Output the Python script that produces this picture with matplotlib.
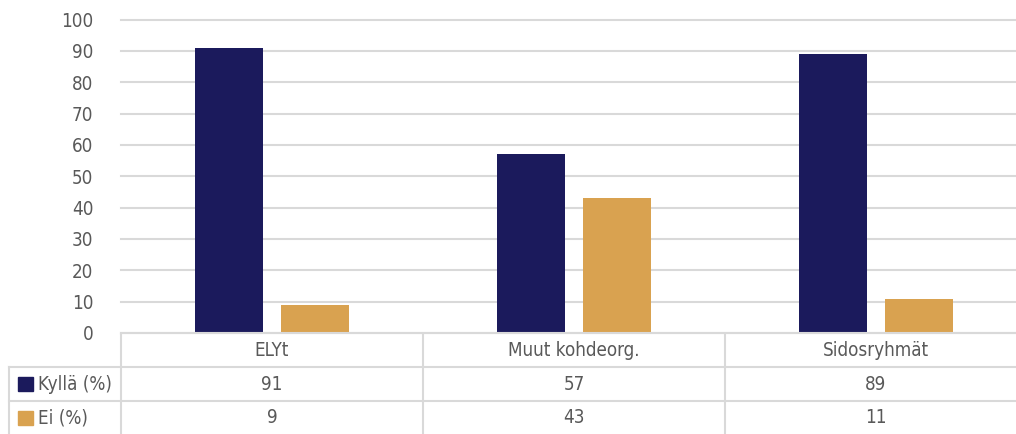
import matplotlib.pyplot as plt
import numpy as np

categories = ['ELYt', 'Muut kohdeorg.', 'Sidosryhmät']
series_names = ['Kyllä (%)', 'Ei (%)']
kylla = [91, 57, 89]
ei = [9, 43, 11]
yticks = list(range(0, 101, 10))

navy = '#1b1a5c'
tan = '#d9a250'
grid_c = '#d9d9d9'
text_c = '#595959'

plt.rcParams['font.family'] = ['DejaVu Sans']
plt.rcParams['font.stretch'] = 'condensed'
FS = 13.5

W, H = 1016, 434
fig = plt.figure(figsize=(W / 100, H / 100), dpi=100)

# pixel layout
x0 = 121          # left of plot area
cw = 302          # category width
y0 = 333          # pixel row of value 0
y100 = 19.5
ax = fig.add_axes([x0 / W, (H - y0) / H, 3 * cw / W, (y0 - y100) / H])
ax.set_xlim(0, 3)
ax.set_ylim(0, 100)

xc = np.arange(3) + 0.5
bw = 68 / cw
off = 43 / cw
ax.bar(xc - off, kylla, width=bw, color=navy, zorder=3)
ax.bar(xc + off, ei, width=bw, color=tan, zorder=3)

ax.set_yticks(yticks)
ax.set_yticklabels([str(v) for v in yticks], fontsize=FS, color=text_c,
                   fontstretch='condensed')
ax.tick_params(axis='y', length=0, pad=20)
ax.set_xticks([])
ax.grid(axis='y', color=grid_c, linewidth=1.5, zorder=0)
for l in ax.get_ygridlines():
    l.set_clip_on(False)
for s in ax.spines.values():
    s.set_visible(False)

# data table below the plot
tab = fig.add_axes([0, 0, 1, (H - y0) / H])
tab.set_xlim(0, W)
tab.set_ylim(H, y0)
tab.axis('off')
rows = [333, 367, 401, 434]
lw = 1.5
tab.plot([x0, W], [rows[0], rows[0]], color=grid_c, lw=lw, clip_on=False)
for r in rows[1:3]:
    tab.plot([9, W], [r, r], color=grid_c, lw=lw)
tab.plot([9, 9], [rows[1], H], color=grid_c, lw=lw)
for i in range(4):
    xv = x0 + i * cw
    tab.plot([xv, xv], [rows[0], H], color=grid_c, lw=lw)

for i, c in enumerate(categories):
    tab.text(x0 + (i + 0.5) * cw, (rows[0] + rows[1]) / 2, c, ha='center',
             va='center', fontsize=FS, color=text_c, fontstretch='condensed')
for j, (name, vals, col) in enumerate(zip(series_names, [kylla, ei], [navy, tan])):
    yc = (rows[j + 1] + rows[j + 2]) / 2
    tab.add_patch(plt.Rectangle((18, yc - 7), 15, 14, color=col))
    tab.text(38, yc, name, ha='left', va='center', fontsize=FS, color=text_c,
             fontstretch='condensed')
    for i, v in enumerate(vals):
        tab.text(x0 + (i + 0.5) * cw, yc, str(v), ha='center', va='center',
                 fontsize=FS, color=text_c, fontstretch='condensed')

fig.savefig('out.png', dpi=100)
